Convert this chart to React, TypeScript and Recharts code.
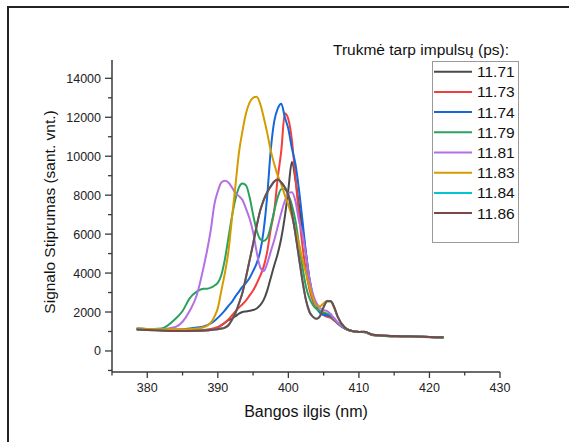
import { CartesianGrid, Line, LineChart, XAxis, YAxis } from "recharts";

const FONT = '"Liberation Sans", Arial, sans-serif';

// wavelength grid (nm)
const WAVELENGTHS = [
  378.5, 380, 382, 384, 385, 386, 387, 388,
  388.5, 389, 389.5, 390, 390.5, 391, 391.5, 392, 392.5, 393,
  393.5, 394, 394.5, 395, 395.5, 396, 396.5, 397, 397.5, 398,
  398.5, 399, 399.5, 400, 400.5, 401, 401.5, 402, 402.5, 403,
  403.5, 404, 404.5, 405, 405.5, 406, 406.5, 407,
  408, 409, 410, 410.8, 412, 414, 416, 418, 420, 422,
];

const S_1171 = [
  1120, 1100, 1070, 1050, 1040, 1040, 1040, 1050,
  1060, 1080, 1120, 1200, 1320, 1450, 1580, 1660, 1780, 1920,
  2000, 2030, 2060, 2100, 2180, 2350, 2620, 3100, 3750, 4400,
  5000, 5800, 6900, 8300, 9700, 8800, 7500, 6300, 5000, 3700,
  2800, 2250, 2020, 1920, 1860, 1780, 1620, 1420,
  1160, 1020, 980, 970, 830, 780, 760, 740, 720, 700,
];

const S_1173 = [
  1130, 1100, 1070, 1050, 1050, 1050, 1060, 1080,
  1100, 1130, 1170, 1230, 1330, 1450, 1620, 1820, 2030, 2230,
  2400, 2600, 2850, 3100, 3450, 3850, 4330, 5100, 6250, 7200,
  8900, 10300, 12200, 11900, 10830, 8900, 7000, 5400, 4100, 3150,
  2550, 2200, 2000, 1850, 1750, 1700, 1560, 1400,
  1150, 1010, 980, 970, 820, 770, 750, 740, 720, 690,
];

const S_1174 = [
  1150, 1120, 1100, 1100, 1120, 1160, 1210, 1260,
  1330, 1420, 1540, 1700, 1880, 2080, 2320, 2520, 2800, 3050,
  3300, 3500, 3750, 4100, 4500, 5100, 6210, 7950, 10300, 11800,
  12450, 12700, 12000, 11400, 10400, 9600, 8300, 6700, 5000, 3600,
  2700, 2200, 1950, 1850, 1820, 1780, 1620, 1420,
  1160, 1020, 980, 970, 820, 770, 750, 740, 720, 700,
];

const S_1179 = [
  1130, 1120, 1150, 1650, 2050, 2700, 3050, 3200,
  3200, 3250, 3350, 3500, 3900, 4700, 5800, 6900, 7800, 8400,
  8600, 8500, 7900, 7000, 6200, 5750, 5650, 5800, 6400, 7200,
  7900, 8300, 8300, 8000, 7500, 6700, 5500, 4300, 3300, 2700,
  2350, 2150, 2050, 1980, 1920, 1840, 1650, 1450,
  1170, 1020, 980, 960, 810, 760, 740, 730, 710, 680,
];

const S_1181 = [
  1150, 1130, 1120, 1230, 1500, 2050, 2850, 4330,
  5200, 6200, 7500, 8200, 8650, 8740, 8650, 8400, 8100, 7950,
  7750, 7300, 6800, 6100, 5100, 4300, 4100, 4500, 5100, 5700,
  6400, 7100, 7700, 8100, 8150, 7700, 6700, 6000, 4900, 3700,
  2900, 2450, 2200, 2100, 2050, 1900, 1680, 1460,
  1180, 1030, 980, 970, 820, 770, 750, 740, 720, 690,
];

const S_1183 = [
  1150, 1130, 1120, 1110, 1110, 1120, 1150, 1220,
  1300, 1450, 1750, 2200, 3100, 4000, 5100, 6800, 8500, 10200,
  11300, 12200, 12750, 13000, 13050, 12700, 12000, 11200, 10300, 9600,
  9000, 8550, 8000, 7500, 6900, 6200, 5500, 4700, 4000, 3300,
  2700, 2300, 2300, 2450, 2580, 2550, 2200, 1750,
  1200, 1030, 980, 970, 820, 770, 750, 740, 720, 690,
];

const S_1184 = [
  1100, 1080, 1050, 1030, 1030, 1030, 1040, 1050,
  1060, 1080, 1100, 1120, 1150, 1200, 1320, 1600, 1950, 2450,
  3000, 3800, 4650, 5500, 6400, 7200, 7750, 8150, 8450, 8700,
  8810, 8650, 8400, 8000, 7100, 6000, 4800, 3600, 2600, 2000,
  1750, 1650, 1800, 2250, 2550, 2550, 2250, 1750,
  1200, 1030, 980, 990, 830, 780, 760, 740, 720, 700,
];

const S_1186 = [
  1100, 1080, 1050, 1030, 1030, 1030, 1040, 1050,
  1060, 1080, 1100, 1120, 1150, 1200, 1320, 1600, 1950, 2450,
  3000, 3800, 4650, 5500, 6400, 7200, 7750, 8150, 8450, 8700,
  8810, 8650, 8400, 8000, 7100, 6000, 4800, 3600, 2600, 2000,
  1750, 1650, 1800, 2250, 2550, 2550, 2250, 1750,
  1200, 1030, 980, 990, 830, 780, 760, 740, 720, 700,
];

const LABELS = ["11.71", "11.73", "11.74", "11.79", "11.81", "11.83", "11.84", "11.86"];
const COLORS = ["#4a4a4a", "#f43e3e", "#1667dc", "#2ba25c", "#b46fe2", "#d59c00", "#00c6d2", "#7a4848"];
const SERIES = [S_1171, S_1173, S_1174, S_1179, S_1181, S_1183, S_1184, S_1186];

const X_TICKS = [375, 380, 385, 390, 395, 400, 405, 410, 415, 420, 425, 430];
const Y_TICKS = [
  -1000, 0, 1000, 2000, 3000, 4000, 5000, 6000, 7000, 8000, 9000, 10000, 11000, 12000, 13000, 14000,
];

const data = WAVELENGTHS.map((w, i) => {
  const row: Record<string, number> = { w };
  SERIES.forEach((s, k) => {
    row["s" + k] = s[i];
  });
  return row;
});

const AXIS = "#3a3a3a";

function XTick(props: any) {
  const { x, y, payload } = props;
  const major = payload.value % 10 === 0;
  return (
    <g>
      <line x1={x} x2={x} y1={y} y2={y + (major ? 6 : 3.5)} stroke={AXIS} strokeWidth={1.3} />
      {major && (
        <text x={x} y={y + 20} textAnchor="middle" fontSize={12.5} fill="#222" fontFamily={FONT}>
          {payload.value}
        </text>
      )}
    </g>
  );
}

function YTick(props: any) {
  const { x, y, payload } = props;
  const major = payload.value % 2000 === 0;
  return (
    <g>
      <line x1={x - (major ? 7 : 4)} x2={x} y1={y} y2={y} stroke={AXIS} strokeWidth={1.3} />
      {major && (
        <text x={x - 11} y={y + 4.5} textAnchor="end" fontSize={12.5} fill="#222" fontFamily={FONT}>
          {payload.value}
        </text>
      )}
    </g>
  );
}

export default function App() {
  return (
    <div
      style={{
        position: "absolute",
        left: 0,
        top: 0,
        width: 569,
        height: 442,
        background: "#fff",
        overflow: "hidden",
        fontFamily: FONT,
      }}
    >
      <LineChart
        width={569}
        height={442}
        data={data}
        margin={{ top: 60, right: 69, bottom: 40, left: 52 }}
      >
        <CartesianGrid stroke="none" fill="none" />
        <XAxis
          dataKey="w"
          type="number"
          domain={[375, 430]}
          ticks={X_TICKS}
          interval={0}
          height={30}
          tickSize={0}
          tickMargin={0}
          tick={<XTick />}
          axisLine={{ stroke: AXIS, strokeWidth: 1.5 }}
          allowDataOverflow
        />
        <YAxis
          type="number"
          domain={[-1080, 14940]}
          ticks={Y_TICKS}
          interval={0}
          width={60}
          tickSize={0}
          tickMargin={0}
          tick={<YTick />}
          axisLine={{ stroke: AXIS, strokeWidth: 1.5 }}
          allowDataOverflow
        />
        {SERIES.map((_, k) => (
          <Line
            key={LABELS[k]}
            dataKey={"s" + k}
            type="monotone"
            stroke={COLORS[k]}
            strokeWidth={2}
            dot={false}
            activeDot={false}
            isAnimationActive={false}
          />
        ))}
      </LineChart>

      <svg
        width={569}
        height={442}
        style={{ position: "absolute", left: 0, top: 0, pointerEvents: "none" }}
      >
        <path d="M 8 450 L 8 7 L 580 7" fill="none" stroke="#222" strokeWidth={2} />
        <text x={306} y={417} textAnchor="middle" fontSize={16} fill="#111" fontFamily={FONT}>
          Bangos ilgis (nm)
        </text>
        <text
          x={55}
          y={212}
          textAnchor="middle"
          fontSize={15.5}
          fill="#111"
          fontFamily={FONT}
          transform="rotate(-90 55 212)"
        >
          Signalo Stiprumas (sant. vnt.)
        </text>
        <text x={333} y={55} fontSize={15.5} fill="#111" fontFamily={FONT}>
          Trukmė tarp impulsų (ps):
        </text>
        <rect x={432.5} y={61.5} width={86} height={181} fill="none" stroke="#9a9a9a" strokeWidth={1} />
        {LABELS.map((label, k) => {
          const cy = 71.7 + k * 20.2;
          return (
            <g key={label}>
              <line x1={434} x2={472} y1={cy} y2={cy} stroke={COLORS[k]} strokeWidth={2} />
              <text x={477} y={cy + 5.5} fontSize={15.5} fill="#111" fontFamily={FONT}>
                {label}
              </text>
            </g>
          );
        })}
      </svg>
    </div>
  );
}
